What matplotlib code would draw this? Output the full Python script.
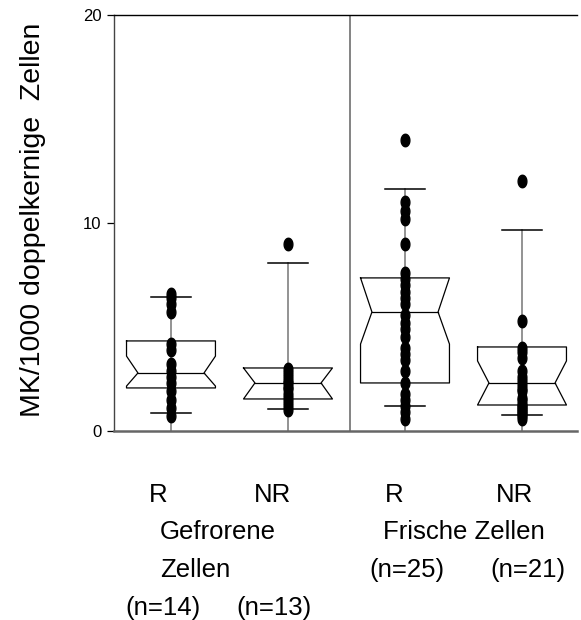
import numpy as np
import matplotlib
matplotlib.use('Agg')
import matplotlib.pyplot as plt
from matplotlib.path import Path

plt.rcParams['font.family'] = ['Liberation Sans', 'DejaVu Sans']

# individual values per group
r_frozen = [6.6, 6.4, 6.1, 5.7, 4.2, 3.9, 3.2, 2.9, 2.6, 2.3, 1.9, 1.5, 1.1, 0.7]
nr_frozen = [9.0, 3.0, 2.8, 2.6, 2.4, 2.3, 2.1, 2.0, 1.8, 1.6, 1.4, 1.2, 1.0]
r_fresh = [14.0, 11.0, 10.6, 10.2, 9.0, 7.6, 7.3, 7.0, 6.7, 6.4, 6.1, 5.6, 5.2,
           4.9, 4.5, 4.0, 3.7, 3.4, 2.9, 2.3, 1.8, 1.5, 1.2, 0.9, 0.6]
nr_fresh = [12.0, 5.3, 4.0, 3.8, 3.5, 2.9, 2.6, 2.4, 2.2, 2.0, 1.9, 1.6, 1.5,
            1.3, 1.2, 1.1, 1.0, 0.9, 0.8, 0.7, 0.6]
groups = [r_frozen, nr_frozen, r_fresh, nr_fresh]

# box statistics
whislo = [0.87, 1.06, 1.2, 0.77]
q1 = [2.07, 1.54, 2.31, 1.25]
cilo = [2.16, 1.54, 4.18, 1.25]
med = [2.79, 2.31, 5.72, 2.31]
cihi = [3.6, 3.03, 7.36, 3.37]
q3 = [4.33, 3.03, 7.36, 4.04]
whishi = [6.44, 8.1, 11.63, 9.66]

yticks = [0, 10, 20]
ylabel = 'MK/1000 doppelkernige  Zellen'

fig = plt.figure(figsize=(5.81, 6.20), dpi=100)
ax = fig.add_axes([114 / 581, 1 - 431 / 620, 463 / 581, 416 / 620])

pos = [1, 2, 3, 4]
w = 0.76      # box width
nw = 0.565    # notch width at median
cw = 0.34     # cap width

theta = np.linspace(0, 2 * np.pi, 41)
ell = Path(np.c_[0.7 * np.cos(theta), np.sin(theta)], closed=True)

for i, x in enumerate(pos):
    # gray stem from zero up to the upper whisker
    ax.plot([x, x], [0, whishi[i]], color='#8a8a8a', lw=1.3, zorder=1)
    bx = [x - w / 2, x + w / 2, x + w / 2, x + nw / 2, x + w / 2, x + w / 2,
          x - w / 2, x - w / 2, x - nw / 2, x - w / 2, x - w / 2]
    by = [q3[i], q3[i], cihi[i], med[i], cilo[i], q1[i],
          q1[i], cilo[i], med[i], cihi[i], q3[i]]
    ax.plot(bx, by, color='black', lw=0.9, zorder=2)
    ax.plot([x - nw / 2, x + nw / 2], [med[i], med[i]], color='black', lw=0.9, zorder=2)
    ax.plot([x - cw / 2, x + cw / 2], [whislo[i], whislo[i]], color='black', lw=1.1, zorder=2)
    ax.plot([x - cw / 2, x + cw / 2], [whishi[i], whishi[i]], color='black', lw=1.1, zorder=2)
    ax.plot([x] * len(groups[i]), groups[i], linestyle='none', marker=ell,
            markersize=9, color='black', zorder=3)

ax.axvline(2.53, color='#7a7a7a', lw=1.3, zorder=1)

ax.set_xlim(0.513, 4.47)
ax.set_ylim(0, 20)
ax.set_yticks(yticks)
ax.set_xticks([])
ax.tick_params(axis='y', direction='out', length=5, width=0.9, labelsize=12, pad=4)
ax.spines['right'].set_visible(False)
ax.spines['top'].set_color('black')
ax.spines['top'].set_linewidth(1.0)
ax.spines['left'].set_color('#444444')
ax.spines['left'].set_linewidth(1.0)
ax.spines['bottom'].set_color('#666666')
ax.spines['bottom'].set_linewidth(1.8)

fig.text(33 / 581, 1 - 220 / 620, ylabel, rotation=90, ha='center', va='center', fontsize=20.5)

def ftext(x, y, s):
    fig.text(x / 581, 1 - y / 620, s, ha='center', va='center', fontsize=18.5)

ftext(158, 495, 'R')
ftext(272, 495, 'NR')
ftext(394, 495, 'R')
ftext(514, 495, 'NR')
ftext(218, 532, 'Gefrorene')
fig.text(160 / 581, 1 - 570 / 620, 'Zellen', ha='left', va='center', fontsize=18.5)
ftext(163, 608, '(n=14)')
ftext(274, 608, '(n=13)')
ftext(464, 532, 'Frische Zellen')
ftext(407, 570, '(n=25)')
ftext(528, 570, '(n=21)')

fig.savefig('out.png', dpi=100)
